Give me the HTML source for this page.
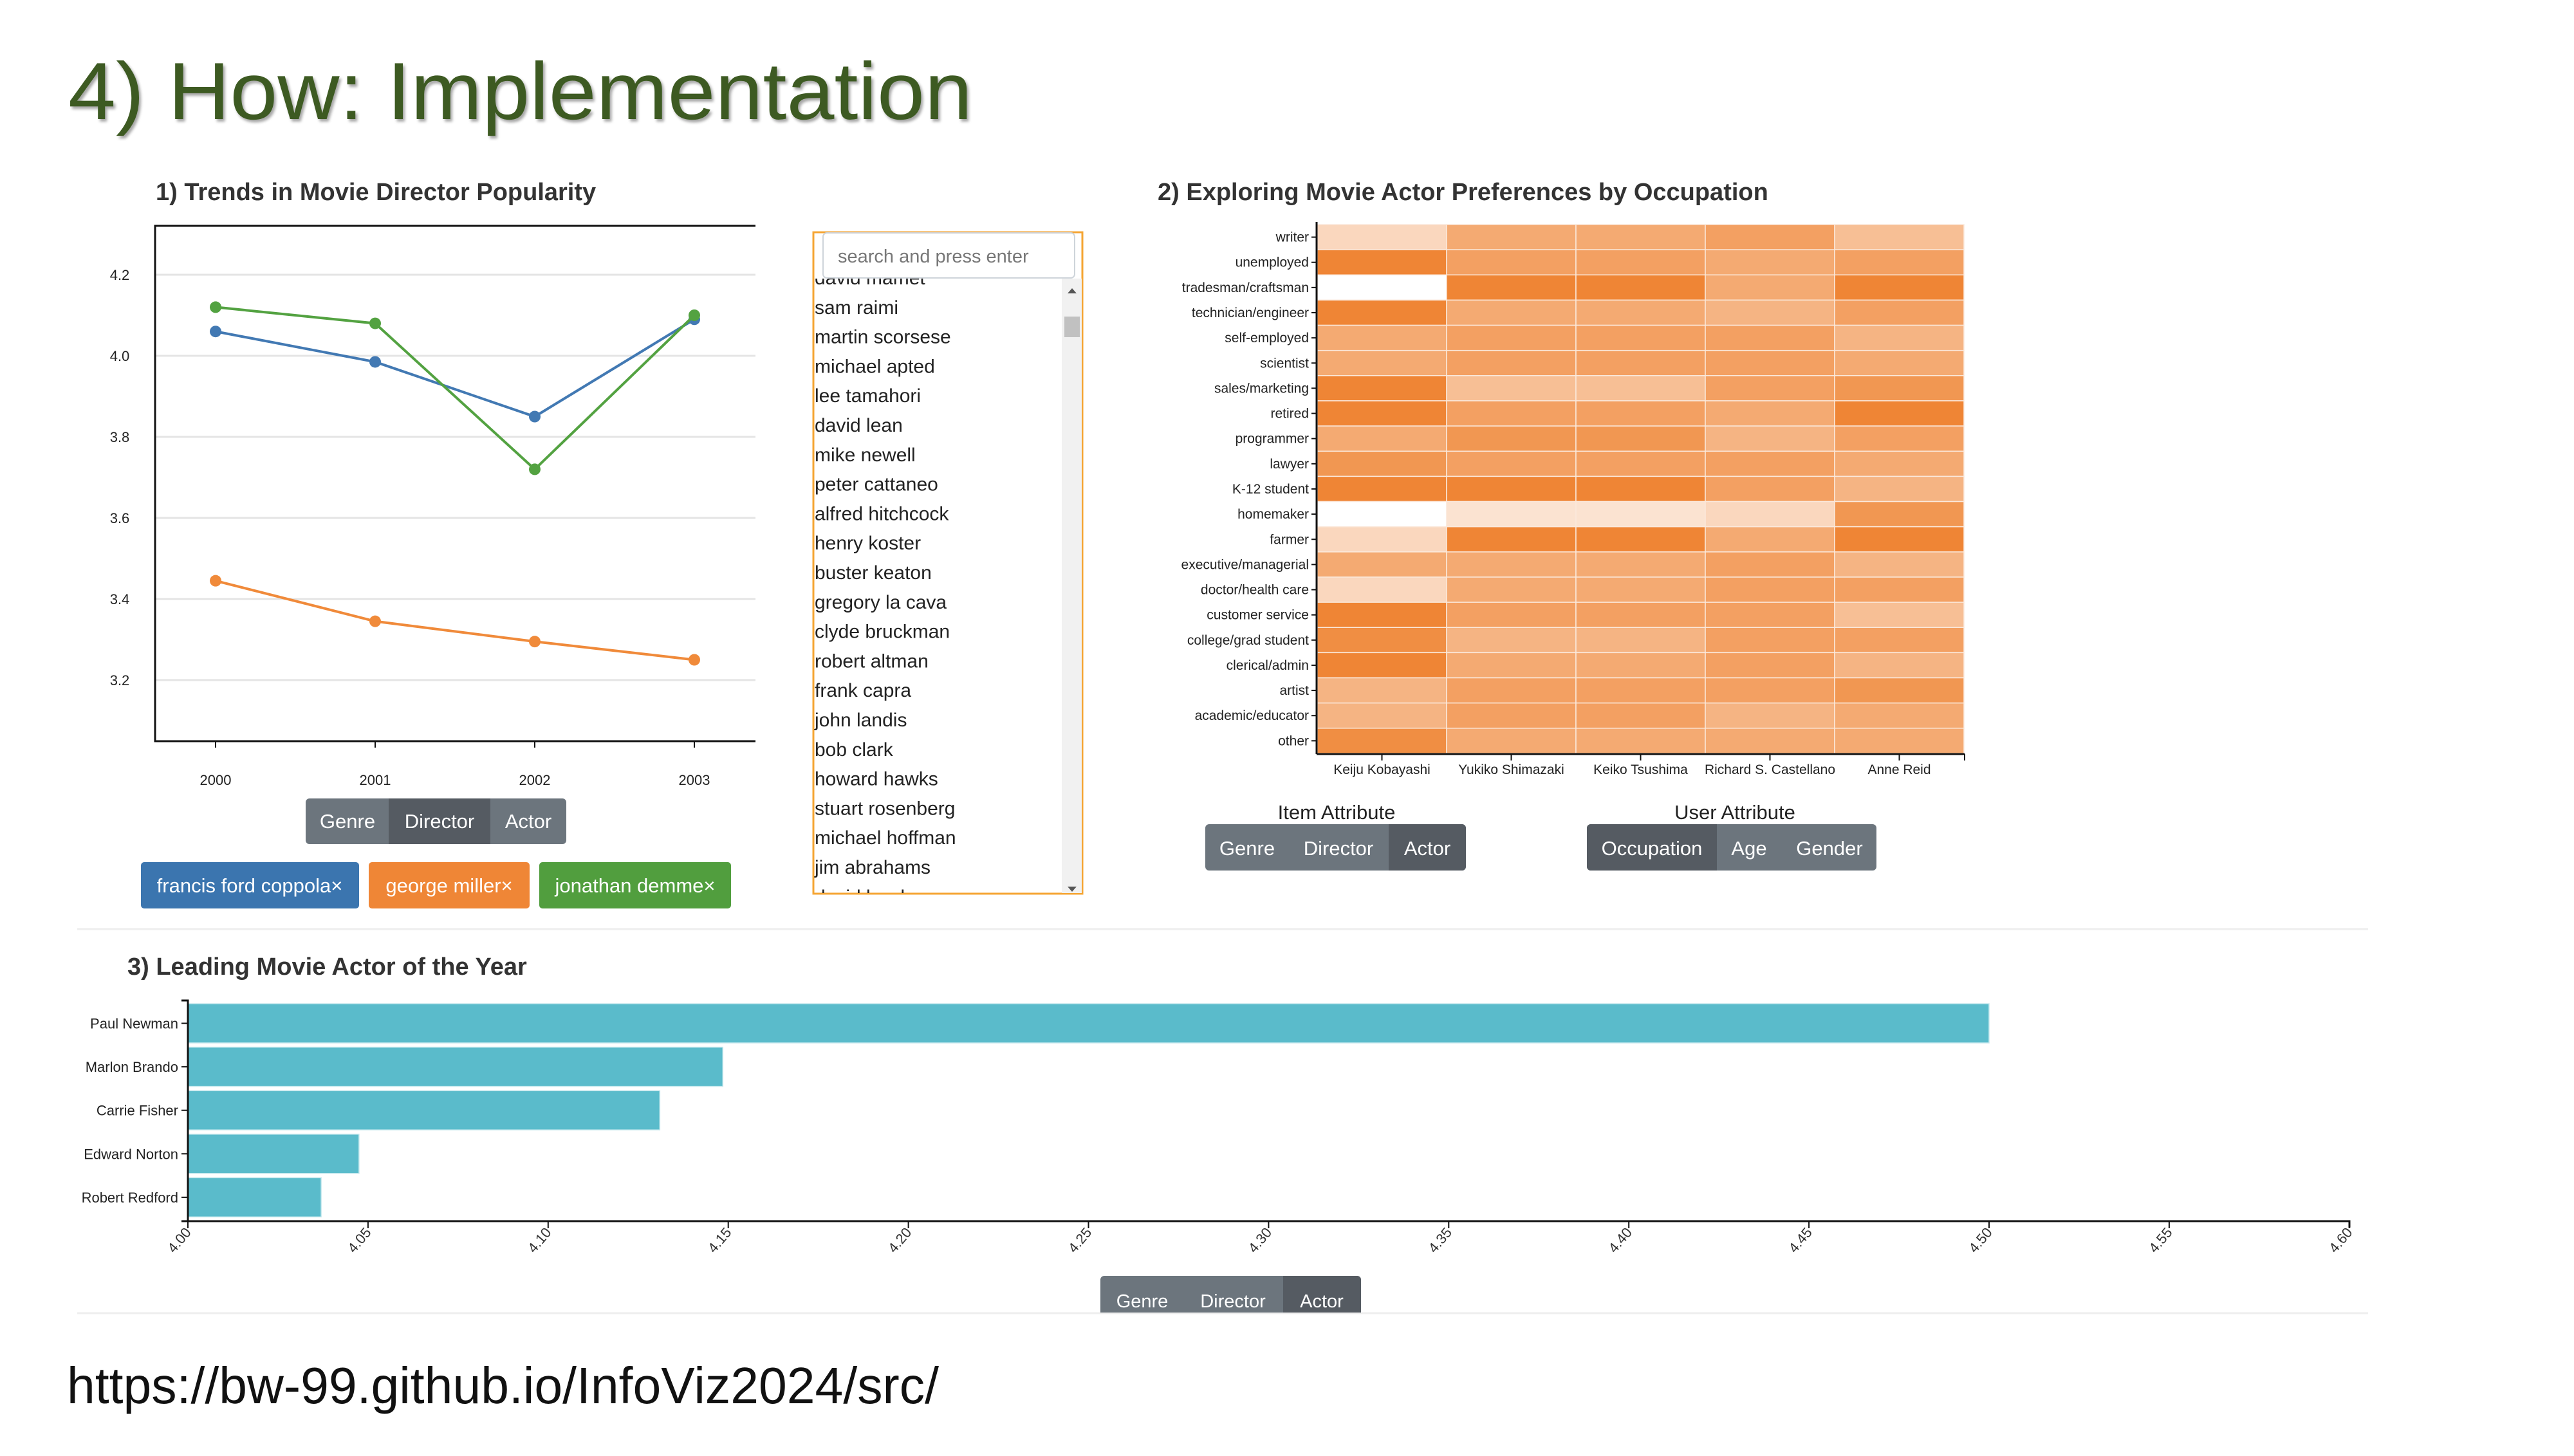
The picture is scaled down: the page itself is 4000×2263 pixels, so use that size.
<!DOCTYPE html>
<html><head><meta charset="utf-8"><style>
html,body{margin:0;padding:0;background:#fff;}
body{width:4000px;height:2258px;overflow:hidden;position:relative;font-family:"Liberation Sans",sans-serif;}
svg text{font-family:"Liberation Sans",sans-serif;}
</style></head><body>
<svg id="main" width="4000" height="2258" viewBox="0 0 4000 2258" xmlns="http://www.w3.org/2000/svg">
<defs><filter id="sh" x="-5%" y="-5%" width="110%" height="120%"><feDropShadow dx="3" dy="4" stdDeviation="2" flood-color="#000" flood-opacity="0.35"/></filter></defs>
<text x="106" y="185" font-size="126" fill="#3d5a24" filter="url(#sh)" textLength="1405" lengthAdjust="spacingAndGlyphs">4) How: Implementation</text>
<text x="242" y="311" font-size="38" font-weight="bold" fill="#333">1) Trends in Movie Director Popularity</text>
<text x="1799" y="311" font-size="38" font-weight="bold" fill="#333">2) Exploring Movie Actor Preferences by Occupation</text>
<text x="198" y="1515" font-size="38" font-weight="bold" fill="#333">3) Leading Movie Actor of the Year</text>
<line x1="120" y1="1444" x2="3680" y2="1444" stroke="#eee" stroke-width="3"/>
<line x1="120" y1="2041" x2="3680" y2="2041" stroke="#eee" stroke-width="3"/>
<g id="line-chart"></g>
<g id="heatmap"></g>
<g id="bar-chart"></g>

<g font-size="31" fill="#fff" text-anchor="middle">
<rect x="475" y="1241" width="405" height="71" rx="6" fill="#6c757d"/>
<rect x="604" y="1241" width="158" height="71" fill="#555b62"/>
<text x="540" y="1287">Genre</text>
<text x="683" y="1287">Director</text>
<text x="821" y="1287">Actor</text>
</g>
<g font-size="31" fill="#fff" text-anchor="middle">
<g><rect x="219" y="1340" width="339" height="72" rx="5" fill="#3b75af"/><text x="388" y="1387">francis ford coppola×</text></g>
<g><rect x="573" y="1340" width="250" height="72" rx="5" fill="#ef8636"/><text x="698" y="1387">george miller×</text></g>
<g><rect x="838" y="1340" width="298" height="72" rx="5" fill="#519e3e"/><text x="987" y="1387">jonathan demme×</text></g>
</g>

<g>
<rect x="1264" y="361" width="418" height="1028" fill="#fff" stroke="#f5a533" stroke-width="3"/>
<clipPath id="lc"><rect x="1265" y="433" width="385" height="955"/></clipPath>
<g clip-path="url(#lc)" font-size="30" fill="#222" id="list-items"></g>
<rect x="1650" y="433" width="31" height="955" fill="#f1f1f1"/>
<path d="M1659 456 L1673 456 L1666 448 Z" fill="#555"/>
<path d="M1659 1378 L1673 1378 L1666 1386 Z" fill="#555"/>
<rect x="1654" y="492" width="24" height="32" fill="#c1c1c1"/>
<rect x="1279" y="362" width="391" height="70" rx="6" fill="#fff" stroke="#ced4da" stroke-width="2"/>
<text x="1302" y="408" font-size="29" fill="#777">search and press enter</text>
</g>

<text x="2077" y="1273" font-size="31" fill="#222" text-anchor="middle">Item Attribute</text>
<text x="2696" y="1273" font-size="31" fill="#222" text-anchor="middle">User Attribute</text>
<g font-size="31" fill="#fff" text-anchor="middle">
<rect x="1873" y="1281" width="405" height="72" rx="6" fill="#6c757d"/>
<path d="M2158 1281 H2272 a6 6 0 0 1 6 6 V1347 a6 6 0 0 1 -6 6 H2158 Z" fill="#555b62"/>
<text x="1938" y="1329">Genre</text>
<text x="2080" y="1329">Director</text>
<text x="2218" y="1329">Actor</text>
</g>
<g font-size="31" fill="#fff" text-anchor="middle">
<rect x="2466" y="1281" width="450" height="72" rx="6" fill="#6c757d"/>
<path d="M2668 1281 H2472 a6 6 0 0 0 -6 6 V1347 a6 6 0 0 0 6 6 H2668 Z" fill="#555b62"/>
<text x="2567" y="1329">Occupation</text>
<text x="2718" y="1329">Age</text>
<text x="2843" y="1329">Gender</text>
</g>

<g font-size="29" fill="#fff" text-anchor="middle">
<clipPath id="bc"><rect x="1700" y="1980" width="450" height="60"/></clipPath>
<g clip-path="url(#bc)">
<rect x="1710" y="1983" width="405" height="72" rx="6" fill="#6c757d"/>
<rect x="1994" y="1983" width="121" height="72" rx="6" fill="#555b62"/>
<rect x="1994" y="1983" width="10" height="72" fill="#555b62"/>
<text x="1775" y="2032">Genre</text>
<text x="1916" y="2032">Director</text>
<text x="2054" y="2032">Actor</text>
</g></g>

<text x="104" y="2181" font-size="80" fill="#111" textLength="1355" lengthAdjust="spacingAndGlyphs">https://bw-99.github.io/InfoViz2024/src/</text>
</svg>
<script>
const years = ["2000","2001","2002","2003"];
const coppolaValues = [4.06, 3.985, 3.85, 4.09];
const millerValues = [3.445, 3.345, 3.295, 3.25];
const demmeValues = [4.12, 4.08, 3.72, 4.10];
const yTicks1 = [3.2, 3.4, 3.6, 3.8, 4.0, 4.2];

const directors = ["david mamet","sam raimi","martin scorsese","michael apted","lee tamahori","david lean","mike newell","peter cattaneo","alfred hitchcock","henry koster","buster keaton","gregory la cava","clyde bruckman","robert altman","frank capra","john landis","bob clark","howard hawks","stuart rosenberg","michael hoffman","jim abrahams","david lynch"];

const occupations = ["writer","unemployed","tradesman/craftsman","technician/engineer","self-employed","scientist","sales/marketing","retired","programmer","lawyer","K-12 student","homemaker","farmer","executive/managerial","doctor/health care","customer service","college/grad student","clerical/admin","artist","academic/educator","other"];
const actors = ["Keiju Kobayashi","Yukiko Shimazaki","Keiko Tsushima","Richard S. Castellano","Anne Reid"];
const kobayashiVals = [1,5,0,5,3,3,5,5,3,4,5,0,1,3,1,5,4.5,5,2.5,2.5,4.5];
const shimazakiVals = [3,3.5,5,3,3.5,3.5,2,3.5,4,3.5,5,0.6,5,3,3,3.5,2.5,3,3.5,3.5,3];
const tsushimaVals = [3,3.5,5,3,3.5,3.5,2,3.5,4,3.5,5,0.6,5,3,3,3.5,2.5,3,3.5,3.5,3];
const castellanoVals = [3.5,3,3,2.5,3.5,3.5,3.5,3,2.5,3.5,3.5,1,3,3.5,3.5,3.5,3.5,3.5,3.5,2.5,3];
const reidVals = [2,3.5,5,3.5,2.5,3,4,5,3.5,3,2.5,4,5,2.5,3.5,2,3.5,2.5,4,3,3];

const barActors = ["Paul Newman","Marlon Brando","Carrie Fisher","Edward Norton","Robert Redford"];
const barValues = [4.50, 4.1485, 4.131, 4.0475, 4.037];
const xTicks3 = ["4.00","4.05","4.10","4.15","4.20","4.25","4.30","4.35","4.40","4.45","4.50","4.55","4.60"];

const NS = "http://www.w3.org/2000/svg";
function mk(tag, attrs, parent){const e=document.createElementNS(NS,tag);for(const k in attrs)e.setAttribute(k,attrs[k]);parent.appendChild(e);return e;}

(function(){
  const g=document.getElementById('line-chart');
  const x=i=>335+i*248, y=v=>427+(4.2-v)*630;
  yTicks1.forEach(t=>{
    const l=mk('line',{x1:240,x2:1174,y1:y(t),y2:y(t),stroke:'#e4e4e4','stroke-width':3},g);
    
    
    const tx=mk('text',{x:186,y:y(t)+8,'font-size':22,fill:'#222','text-anchor':'middle'},g);
    tx.textContent=t.toFixed(1);
    
    
  });
  mk('path',{d:'M1174 351 H241 V1152 H1174',fill:'none',stroke:'#111','stroke-width':3},g);
  years.forEach((yr,i)=>{
    mk('line',{x1:x(i),x2:x(i),y1:1152,y2:1162,stroke:'#111','stroke-width':2},g);
    const tx=mk('text',{x:x(i),y:1220,'font-size':22,fill:'#222','text-anchor':'middle'},g);
    tx.textContent=yr;
    
    
  });
  [[coppolaValues,'#4279b3','coppola'],[millerValues,'#f08a3a','miller'],[demmeValues,'#53a241','demme']].forEach(([vals,c,n])=>{
    const p=mk('polyline',{points:vals.map((v,i)=>x(i)+','+y(v)).join(' '),fill:'none',stroke:c,'stroke-width':4},g);
    
    
    vals.forEach((v,i)=>{
      const d=mk('circle',{cx:x(i),cy:y(v),r:9,fill:c},g);
      
      
    });
  });
})();

(function(){
  const g=document.getElementById('list-items');
  directors.forEach((d,i)=>{
    const t=mk('text',{x:1266,y:442+i*45.8},g);
    t.textContent=d;
    
    
  });
})();

(function(){
  const g=document.getElementById('heatmap');
  const cols=[kobayashiVals,shimazakiVals,tsushimaVals,castellanoVals,reidVals];
  const x0=2047,cw=201,y0=349,rh=39.14;
  function col(v){const t=Math.pow(v/5,0.7);const a=[239,133,53];return 'rgb('+a.map(c=>Math.round(255+(c-255)*t)).join(',')+')';}
  cols.forEach((vals,ci)=>{
    vals.forEach((v,ri)=>{
      const r=mk('rect',{x:x0+ci*cw,y:y0+ri*rh,width:cw,height:rh,fill:col(v),stroke:'#fbe9dc','stroke-width':1.5},g);
      
      
    });
  });
  occupations.forEach((o,ri)=>{
    const cy=y0+ri*rh+rh/2;
    mk('line',{x1:2038,x2:2046,y1:cy,y2:cy,stroke:'#111','stroke-width':2},g);
    const t=mk('text',{x:2034,y:cy+7,'font-size':21,fill:'#222','text-anchor':'end'},g);
    t.textContent=o;
    
    
  });
  mk('line',{x1:2046,x2:2046,y1:345,y2:1172,stroke:'#111','stroke-width':3},g);
  mk('line',{x1:2046,x2:3053,y1:1172,y2:1172,stroke:'#111','stroke-width':3},g);
  mk('line',{x1:3053,x2:3053,y1:1172,y2:1182,stroke:'#111','stroke-width':2},g);
  actors.forEach((a,ci)=>{
    const cx=x0+ci*cw+cw/2;
    mk('line',{x1:cx,x2:cx,y1:1172,y2:1182,stroke:'#111','stroke-width':2},g);
    const t=mk('text',{x:cx,y:1203,'font-size':21,fill:'#222','text-anchor':'middle'},g);
    t.textContent=a;
    
    
  });
})();

(function(){
  const g=document.getElementById('bar-chart');
  const x=v=>292+(v-4)*5598;
  const y0=1560,step=67.6,bh=61;
  barActors.forEach((a,i)=>{
    const r=mk('rect',{x:292,y:y0+i*step,width:x(barValues[i])-292,height:bh,fill:'#5abbcb',stroke:'#c8e9ee','stroke-width':1.5},g);
    
    
    const cy=y0+i*step+bh/2;
    mk('line',{x1:282,x2:292,y1:cy,y2:cy,stroke:'#111','stroke-width':2},g);
    const t=mk('text',{x:277,y:cy+8,'font-size':22,fill:'#222','text-anchor':'end'},g);
    t.textContent=a;
    
    
  });
  mk('path',{d:'M282 1555 H292 V1898 H3651 V1908 M282 1898 H292',fill:'none',stroke:'#111','stroke-width':3},g);
  xTicks3.forEach(s=>{
    const xx=x(parseFloat(s));
    mk('line',{x1:xx,x2:xx,y1:1898,y2:1909,stroke:'#111','stroke-width':2},g);
    const t=mk('text',{'font-size':22,fill:'#333','text-anchor':'end',transform:'translate('+(xx+6)+',1916) rotate(-50)'},g);
    t.textContent=s;
    
    
  });
})();
</script>
</body></html>
